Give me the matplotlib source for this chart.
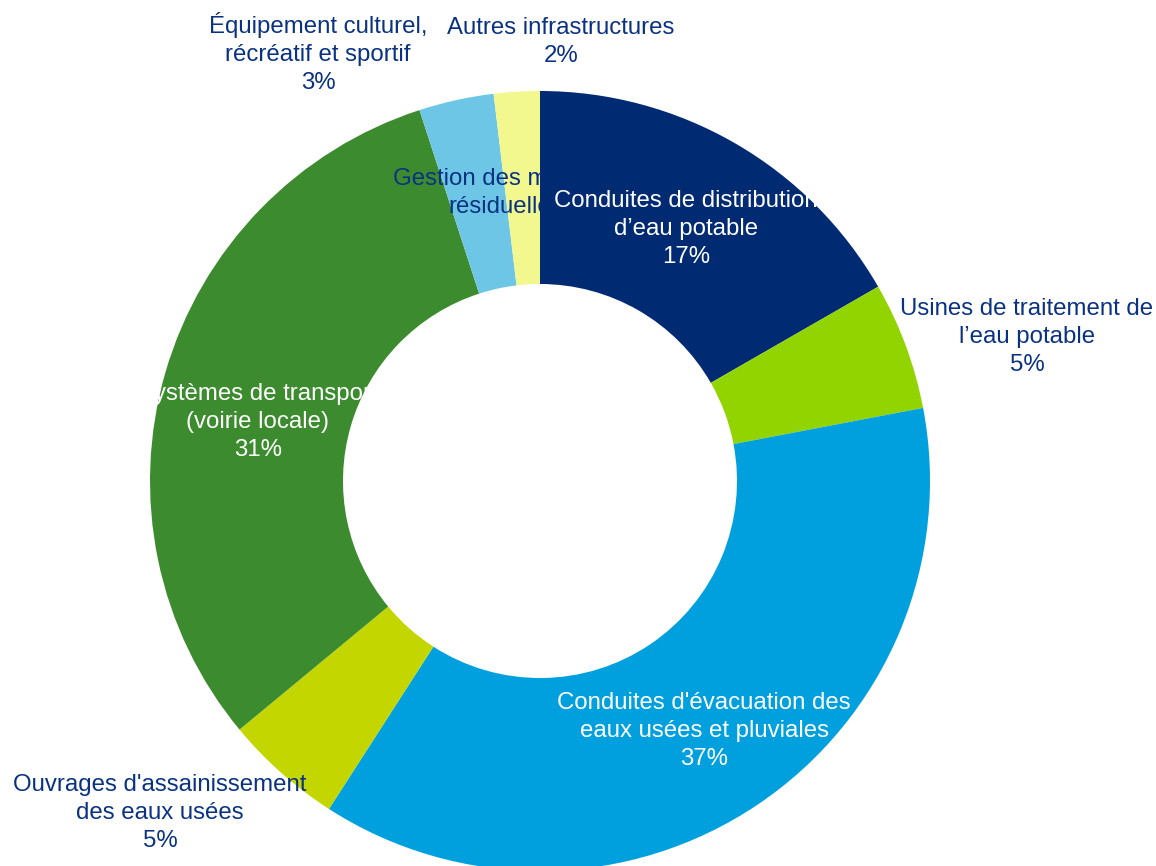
import matplotlib
matplotlib.use("Agg")
import matplotlib.pyplot as plt
from matplotlib.patches import Rectangle

plt.rcParams['font.family'] = ['Liberation Sans', 'DejaVu Sans']

# ---- data ----
categories = [
    "Conduites de distribution\nd’eau potable",
    "Usines de traitement de\nl’eau potable",
    "Conduites d'évacuation des\neaux usées et pluviales",
    "Ouvrages d'assainissement\ndes eaux usées",
    "Systèmes de transport\n(voirie locale)",
    "Gestion des matières\nrésiduelles",
    "Équipement culturel,\nrécréatif et sportif",
    "Autres infrastructures",
]
values = [16.7, 5.3, 37.1, 4.9, 31.0, 0.0, 3.1, 1.9]
pct_labels = ["17%", "5%", "37%", "5%", "31%", "", "3%", "2%"]

# ---- style ----
colors = ["#002A72", "#92D400", "#00A0DF", "#C4D600", "#3D8B2F",
          "#3D8B2F", "#6EC6E6", "#F2F78E"]
inside = [True, False, True, False, True, True, False, False]
label_pos = [(686, 229), (1027, 337), (704, 731), (160, 813),
             (258, 422), (506, 193), (318, 53), (561, 42)]

W, H = 1156, 866
fig = plt.figure(figsize=(W / 100, H / 100), dpi=100)
ax = fig.add_axes([0, 0, 1, 1])
ax.set_xlim(0, W)
ax.set_ylim(0, H)
ax.set_aspect('equal')
ax.axis('off')

cx, cy, R = 540, H - 481, 390
wedges, _ = ax.pie(values, colors=colors, startangle=90, counterclock=False,
                   radius=R, center=(cx, cy),
                   wedgeprops=dict(width=R - 197, linewidth=0))
ax.set_xlim(0, W)
ax.set_ylim(0, H)

dark = "#0A3282"
for i, (cat, pct) in enumerate(zip(categories, pct_labels)):
    txt = cat if pct == "" else cat + "\n" + pct
    x, y = label_pos[i]
    col = "white" if inside[i] and pct != "" else dark
    t = ax.text(x, H - y, txt, ha='center', va='center', fontsize=17.3,
                color=col, linespacing=1.34, zorder=5)
    if inside[i]:
        if pct == "":
            clip = Rectangle((0, 0), cx, H, transform=ax.transData)
            t.set_clip_path(clip)
        else:
            t.set_clip_path(wedges[i])
        t.set_clip_on(True)

fig.savefig("out.png", dpi=100)
